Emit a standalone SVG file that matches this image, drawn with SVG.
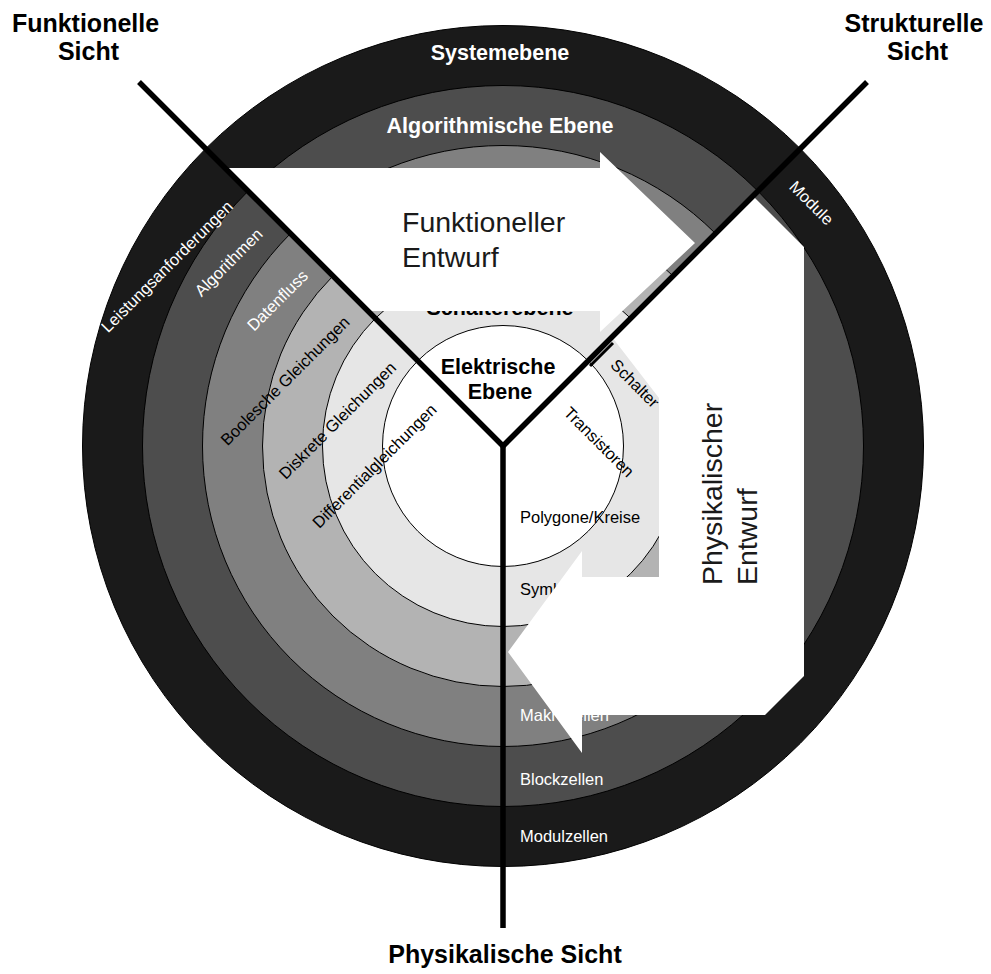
<svg xmlns="http://www.w3.org/2000/svg" width="991" height="974" viewBox="0 0 991 974">
  <style>
    .ring { stroke: #000; stroke-width: 1; }
    .lbl { font-family: "Liberation Sans", Arial, sans-serif; font-size: 16.5px; }
    .lw { fill: #fff; }
    .lb { fill: #000; }
    .mid { text-anchor: middle; }
    .lvl { font-family: "Liberation Sans", Arial, sans-serif; font-size: 21.5px; font-weight: bold; text-anchor: middle; }
    .title { font-family: "Liberation Sans", Arial, sans-serif; font-size: 25px; font-weight: bold; text-anchor: middle; fill: #000; }
    .arrow { fill: #fff; stroke: none; }
    .atext { font-family: "Liberation Sans", Arial, sans-serif; font-size: 28.5px; fill: #1a1a1a; }
    .axis { stroke: #000; stroke-width: 5.5; fill: none; }
  </style>

  <!-- concentric abstraction levels -->
  <g id="rings">
    <circle id="ring-system" class="ring" cx="503" cy="446" r="420.5" fill="#1a1a1a"/>
    <circle id="ring-algorithm" class="ring" cx="503" cy="446" r="360.5" fill="#4d4d4d"/>
    <circle id="ring-rt" class="ring" cx="503" cy="446" r="300.5" fill="#808080"/>
    <circle id="ring-logic" class="ring" cx="503" cy="446" r="240.5" fill="#b3b3b3"/>
    <circle id="ring-switch" class="ring" cx="503" cy="446" r="180.5" fill="#e6e6e6"/>
    <circle id="ring-electric" class="ring" cx="503" cy="446" r="120.5" fill="#fff"/>
  </g>

  <!-- level names -->
  <g id="levels">
    <text class="lvl" x="500" y="60" fill="#fff">Systemebene</text>
    <text class="lvl" x="500" y="133" fill="#fff">Algorithmische Ebene</text>
    <text class="lvl" x="500" y="315" fill="#000">Schalterebene</text>
    <text class="lvl" x="498" y="374" fill="#000">Elektrische</text>
    <text class="lvl" x="500" y="399" fill="#000">Ebene</text>
  </g>

  <!-- functional view entries -->
  <g id="functional-labels" class="lbl mid">
    <text class="lw" transform="translate(171,270.5) rotate(-45)">Leistungsanforderungen</text>
    <text class="lw" transform="translate(232.5,266.5) rotate(-45)">Algorithmen</text>
    <text class="lw" transform="translate(281.5,304.5) rotate(-45)">Datenfluss</text>
    <text class="lb" transform="translate(289,385) rotate(-45)">Boolesche Gleichungen</text>
    <text class="lb" transform="translate(341.5,424.5) rotate(-45)">Diskrete Gleichungen</text>
    <text class="lb" transform="translate(378.5,470) rotate(-45)">Differentialgleichungen</text>
  </g>

  <!-- structural view entries -->
  <g id="structural-labels" class="lbl mid">
    <text class="lw" transform="translate(807.5,207) rotate(45)">Module</text>
    <text class="lb" transform="translate(631,387.5) rotate(45)">Schalter</text>
    <text class="lb" transform="translate(595,446) rotate(45)">Transistoren</text>
  </g>

  <!-- physical view entries -->
  <g id="physical-labels" class="lbl">
    <text class="lb" x="520" y="523">Polygone/Kreise</text>
    <text class="lb" x="520" y="595">Symbole</text>
    <text class="lw" x="520" y="721">Makrozellen</text>
    <text class="lw" x="520" y="785">Blockzellen</text>
    <text class="lw" x="520" y="842">Modulzellen</text>
  </g>

  <!-- design flow arrows -->
  <g id="functional-design">
    <polygon class="arrow" points="225,168 600,168 600,152 695,243 600,332 600,311 368,311"/>
    <text class="atext" x="402" y="232">Funktioneller</text>
    <text class="atext" x="402" y="267">Entwurf</text>
  </g>
  <g id="physical-design">
    <polygon class="arrow" points="753,196 804,247 804,676 765,715 582,715 582,753 508,652 582,551 582,577 659,577 659,398 612,337"/>
    <text class="atext" transform="translate(722,585) rotate(-90)">Physikalischer</text>
    <text class="atext" transform="translate(757,585) rotate(-90)">Entwurf</text>
  </g>

  <!-- the three view axes -->
  <g id="axes">
    <polyline class="axis" points="139,82 503,446 867,82" stroke-linejoin="miter"/>
    <line class="axis" x1="503" y1="446" x2="503" y2="928"/>
    <line x1="590" y1="366" x2="613" y2="343" stroke="#000" stroke-width="3"/>
  </g>

  <!-- view titles -->
  <g id="titles">
    <text class="title" x="85.5" y="32">Funktionelle</text>
    <text class="title" x="88.5" y="60">Sicht</text>
    <text class="title" x="914" y="32">Strukturelle</text>
    <text class="title" x="917.5" y="60">Sicht</text>
    <text class="title" x="505" y="963">Physikalische Sicht</text>
  </g>
</svg>
